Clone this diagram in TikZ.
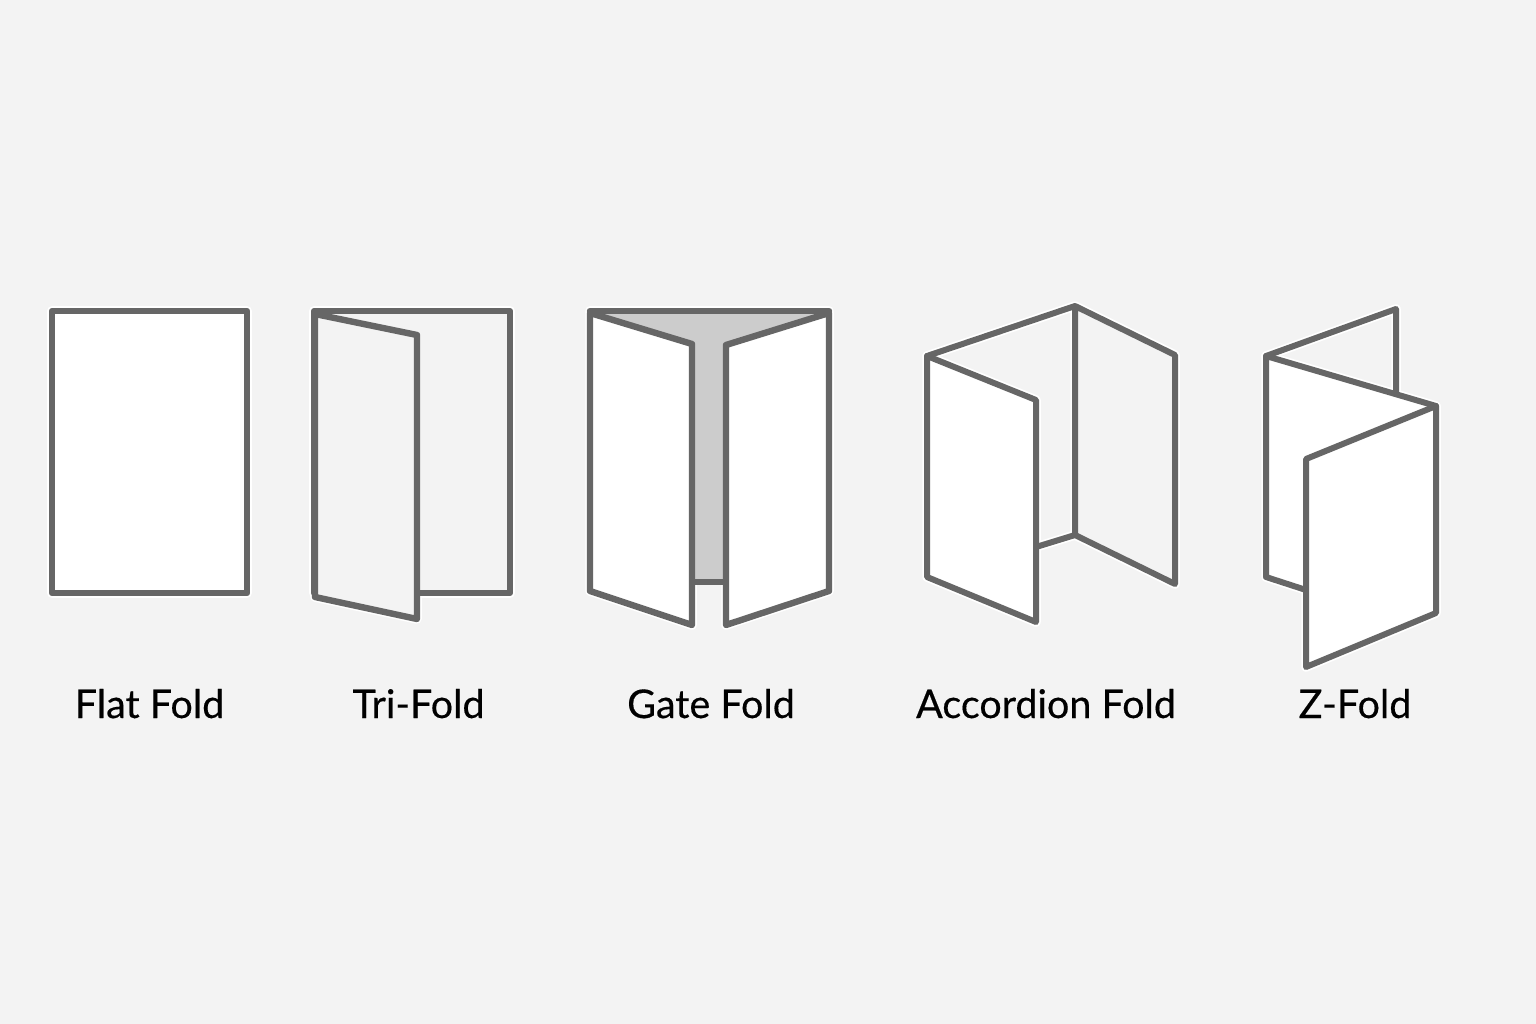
\documentclass[tikz,border=0pt]{standalone}
\usepackage{fontspec}
\setmainfont{Lato}
\newfontfamily\labfont[FakeBold=0.35]{Lato}
\definecolor{bgc}{HTML}{F3F3F3}
\definecolor{ink}{HTML}{666666}
\definecolor{grayc}{HTML}{CCCCCC}
\tikzset{
  halo/.style={draw=white,line width=9.5pt,line join=round,line cap=round},
  panel/.style={draw=ink,line width=6.4pt,line join=round,line cap=round},
  thin panel/.style={draw=ink,line width=6pt,line join=round,line cap=round},
  lab/.style={font=\labfont\fontsize{39.5}{42}\selectfont,text=black,inner sep=0pt,anchor=base}
}
% paths
\def\flatP{(52,311) rectangle (247,593)}
\def\triB{(314,311) rectangle (510,593)}
\def\triL{(315,314) -- (417,335) -- (417,619) -- (315,597) -- cycle}
\def\gateT{(590,311) -- (829,311)}
\def\gateM{(692,582) -- (726,582)}
\def\gateL{(590,313) -- (692,344) -- (692,625) -- (590,591) -- cycle}
\def\gateR{(829,313) -- (726,345) -- (726,625) -- (829,591) -- cycle}
\def\accS{(1036,547) -- (1075,535)}
\def\accB{(927,356) -- (1075,306) -- (1175,355) -- (1175,584) -- (1075,535) -- (1075,306)}
\def\accL{(927,356) -- (1036,400) -- (1036,622) -- (927,577) -- cycle}
\def\zB{(1396,392) -- (1396,309) -- (1266,356)}
\def\zM{(1266,356) -- (1436,406) -- (1436,500) -- (1306,590) -- (1266,577) -- cycle}
\def\zF{(1436,406) -- (1306,459) -- (1306,667) -- (1436,613) -- cycle}
\begin{document}
\begin{tikzpicture}[x=1pt,y=-1pt]
\useasboundingbox (0,0) rectangle (1536,1024);
\fill[bgc] (0,0) rectangle (1536,1024);
% white halo under every outline
\draw[halo] \flatP;
\draw[halo] \triB; \draw[halo] \triL;
\draw[halo] \gateT; \draw[halo] \gateL; \draw[halo] \gateR;
\draw[halo] \accB; \draw[halo] \accL; \draw[halo] \accS;
\draw[halo] \zB; \draw[halo] \zM; \draw[halo] \zF;
% Flat
\draw[panel,fill=white] \flatP;
% Tri
\draw[thin panel,fill=bgc] \triB;
\draw[panel,fill=bgc] \triL;
% Gate
\fill[grayc] (590,311) -- (829,311) -- (726,345) -- (726,583) -- (692,583) -- (692,345) -- cycle;
\draw[panel] \gateM;
\draw[panel] \gateT;
\draw[panel,fill=white] \gateL;
\draw[panel,fill=white] \gateR;
% Accordion
\draw[thin panel] \accS;
\fill[bgc] \accB;
\draw[thin panel] \accB;
\draw[thin panel,fill=white] \accL;
% Z
\draw[thin panel] \zB;
\fill[white] \zM;
\draw[thin panel] (1306,590) -- (1266,577) -- (1266,356) -- (1436,406);
\draw[thin panel,fill=white] \zF;
% Labels
\node[lab] (flat) at (149.5,718) {Flat Fold};
\node[lab] (tri) at (418.5,718) {Tri-Fold};
\node[lab] (gate) at (711,718) {Gate Fold};
\node[lab] (acc) at (1046,718) {Accordion Fold};
\node[lab] (z) at (1355,718) {Z-Fold};
\end{tikzpicture}
\end{document}
